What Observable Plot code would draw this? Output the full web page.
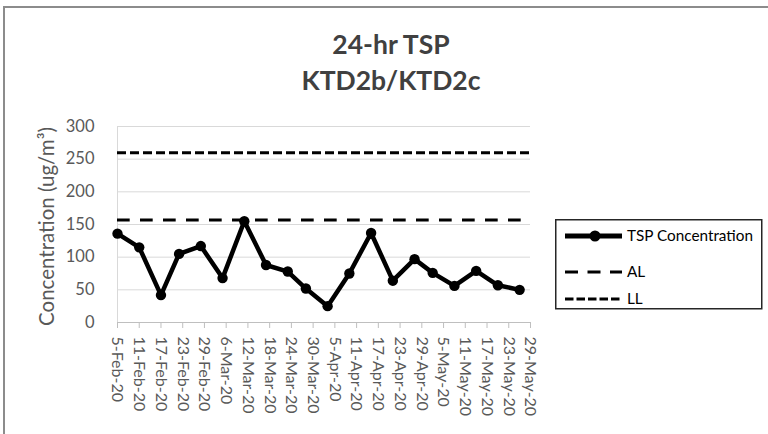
<!DOCTYPE html>
<html>
<head>
<meta charset="utf-8">
<script src="https://cdn.jsdelivr.net/npm/d3@7"></script>
<script src="https://cdn.jsdelivr.net/npm/@observablehq/plot@0.6"></script>
<style>
  html, body { margin: 0; padding: 0; background: #fff; }
  #wrap { position: relative; width: 768px; height: 434px; overflow: hidden; font-family: Lato, "Open Sans", sans-serif; }
  #frame { position: absolute; left: 3px; top: 6px; width: 900px; height: 600px; border-top: 2px solid #8c8c8c; border-left: 2px solid #8c8c8c; box-sizing: border-box; }
  .title { position: absolute; left: 0; width: 782px; text-align: center; font-weight: bold; font-size: 26.5px; color: #404040; line-height: 1; }
  #chart { position: absolute; left: 0; top: 0; }
  #legend { position: absolute; left: 555px; top: 219px; }
</style>
</head>
<body>
<div id="wrap">
  <div id="frame"></div>
  <div id="chart"></div>
  <div class="title" style="top:31px">24-hr TSP</div>
  <div class="title" style="top:67px">KTD2b/KTD2c</div>
  <div id="legend"></div>
</div>
<script>
// Data
const sampleDates = ["2020-02-05","2020-02-11","2020-02-17","2020-02-22","2020-02-28","2020-03-05","2020-03-11","2020-03-17","2020-03-23","2020-03-28","2020-04-03","2020-04-09","2020-04-15","2020-04-21","2020-04-27","2020-05-02","2020-05-08","2020-05-14","2020-05-20","2020-05-26"];
const tspValues = [136, 115, 42, 105, 117, 68, 155, 88, 78, 52, 25, 75, 137, 64, 97, 76, 56, 79, 57, 50];
const alValue = 157;
const llValue = 260;
const tickDates = ["2020-02-05","2020-02-11","2020-02-17","2020-02-23","2020-02-29","2020-03-06","2020-03-12","2020-03-18","2020-03-24","2020-03-30","2020-04-05","2020-04-11","2020-04-17","2020-04-23","2020-04-29","2020-05-05","2020-05-11","2020-05-17","2020-05-23","2020-05-29"];
const yTicks = [0, 50, 100, 150, 200, 250, 300];
const seriesNames = ["TSP Concentration", "AL", "LL"];
const yLabel = "Concentration (ug/m³)";

const parse = d3.utcParse("%Y-%m-%d");
const data = sampleDates.map((d, i) => ({date: parse(d), value: tspValues[i]}));
const ticks = tickDates.map(parse);
const domain = [ticks[0], ticks[ticks.length - 1]];
const fmt = d3.utcFormat("%-d-%b-%y");

const chart = Plot.plot({
  width: 768,
  height: 434,
  marginLeft: 117,
  marginRight: 238,
  marginTop: 126,
  marginBottom: 112,
  style: {background: "transparent", fontFamily: "Lato, 'Open Sans', sans-serif", overflow: "visible"},
  x: {type: "utc", domain, ticks, tickFormat: fmt},
  y: {domain: [0, 300], ticks: yTicks},
  marks: [
    Plot.ruleY(yTicks.filter(t => t > 0), {stroke: "#d9d9d9", strokeWidth: 1}),
    Plot.ruleX([domain[0]], {stroke: "#d9d9d9", strokeWidth: 1}),
    Plot.ruleY([0], {stroke: "#bfbfbf", strokeWidth: 1.2}),
    Plot.axisY({ticks: yTicks, tickSize: 0, tickPadding: 23, fontSize: 16.5, fill: "#595959", label: null}),
    Plot.text([yLabel], {frameAnchor: "left", dx: -70, dy: 2, rotate: -90, fontSize: 20.5, fill: "#595959", textAnchor: "middle"}),
    Plot.axisX({ticks, tickFormat: fmt, tickSize: 6, tickPadding: 8, tickRotate: 90, fontSize: 16, stroke: "#bfbfbf", fill: "#595959", label: null}),
    Plot.ruleY([llValue], {stroke: "#000", strokeWidth: 3, strokeDasharray: "9,4"}),
    Plot.ruleY([alValue], {stroke: "#000", strokeWidth: 3, strokeDasharray: "12.7,10.3"}),
    Plot.line(data, {x: "date", y: "value", stroke: "#000", strokeWidth: 4.5, strokeLinejoin: "round"}),
    Plot.dot(data, {x: "date", y: "value", r: 5.2, fill: "#000", stroke: "none"})
  ]
});
document.getElementById("chart").appendChild(chart);

// Legend
const lg = d3.select("#legend").append("svg").attr("width", 208).attr("height", 91);
lg.append("rect").attr("x", 0.75).attr("y", 0.75).attr("width", 206).attr("height", 89)
  .attr("fill", "#fff").attr("stroke", "#262626").attr("stroke-width", 1.5);
const rows = [
  {name: seriesNames[0], y: 17, dash: null, w: 5, dot: true},
  {name: seriesNames[1], y: 53, dash: "13,9.5", w: 3, dot: false},
  {name: seriesNames[2], y: 80, dash: "8.5,3", w: 3, dot: false}
];
rows.forEach(r => {
  const ln = lg.append("line").attr("x1", 10).attr("x2", 67).attr("y1", r.y).attr("y2", r.y)
    .attr("stroke", "#000").attr("stroke-width", r.w);
  if (r.dash) ln.attr("stroke-dasharray", r.dash);
  if (r.dot) lg.append("circle").attr("cx", 40).attr("cy", r.y).attr("r", 5.5).attr("fill", "#000");
  lg.append("text").attr("x", 72).attr("y", r.y).attr("dy", "0.35em")
    .attr("font-size", 15.3).attr("font-family", "Lato, 'Open Sans', sans-serif").attr("fill", "#000").text(r.name);
});
</script>
</body>
</html>
